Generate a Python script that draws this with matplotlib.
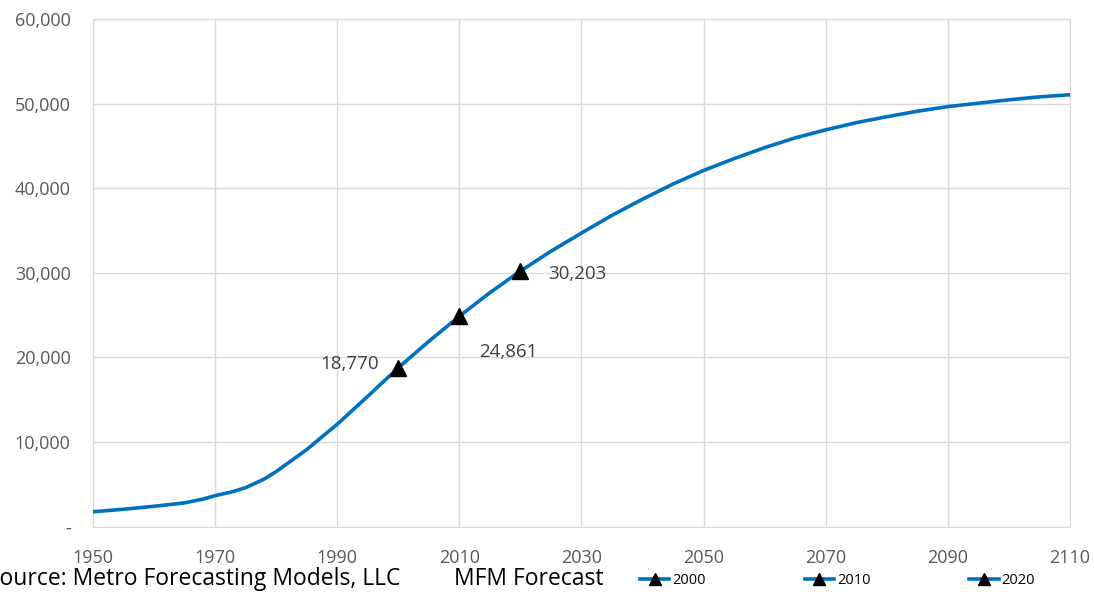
import numpy as np
import matplotlib as mpl; mpl.use('Agg')
import matplotlib.pyplot as plt
from matplotlib.lines import Line2D
from matplotlib.ticker import FuncFormatter

plt.rcParams['font.family'] = ['Open Sans', 'DejaVu Sans']

years = [1950, 1955, 1960, 1965, 1968, 1970, 1973, 1975, 1978, 1980, 1985, 1990, 1995, 2000, 2005,
         2010, 2015, 2020, 2025, 2030, 2035, 2040, 2045, 2050, 2055, 2060, 2065, 2070, 2075, 2080,
         2085, 2090, 2095, 2100, 2105, 2110]
pop = [1750, 2050, 2400, 2800, 3250, 3650, 4150, 4600, 5600, 6500, 9100, 12100, 15400, 18770, 21900,
       24861, 27650, 30203, 32550, 34700, 36800, 38700, 40500, 42100, 43500, 44800, 45950, 46900, 47750,
       48450, 49100, 49650, 50050, 50450, 50800, 51050]
mark_years = [2000, 2010, 2020]
mark_vals = [18770, 24861, 30203]
mark_labels = ['18,770', '24,861', '30,203']

blue = '#0070C0'; grey = '#595959'; grid = '#D9D9D9'

fig = plt.figure(figsize=(10.94, 5.95), dpi=100)
ax = fig.add_axes([0.085, 0.115, 0.893, 0.853])
ax.plot(years, pop, color=blue, lw=2.6, solid_capstyle='round', solid_joinstyle='round', zorder=3)
ax.plot(mark_years, mark_vals, ls='none', marker='^', ms=12, color='black', zorder=4)

offsets = [(-14, 3), (14, -26), (20, -2)]
has = ['right', 'left', 'left']
for x, v, t, (dx, dy), ha in zip(mark_years, mark_vals, mark_labels, offsets, has):
    ax.annotate(t, (x, v), xytext=(dx, dy), textcoords='offset points', ha=ha, va='center',
                fontsize=13.5, color='#404040')

ax.set_xlim(1950, 2110); ax.set_ylim(0, 60000)
ax.set_xticks(range(1950, 2111, 20)); ax.set_yticks(range(0, 60001, 10000))
ax.yaxis.set_major_formatter(FuncFormatter(lambda v, p: '-' if v == 0 else f'{int(v):,}'))
ax.grid(True, color=grid, lw=1)
ax.set_axisbelow(True)
for s in ax.spines.values():
    s.set_color(grid)
ax.tick_params(length=0, labelsize=13, colors=grey)
ax.tick_params(axis='x', pad=16)
ax.tick_params(axis='y', pad=16)

fig.text(-0.012, 0.006, 'Source: Metro Forecasting Models, LLC', fontsize=16.5, color='black', va='bottom')
fig.text(0.415, 0.006, 'MFM Forecast', fontsize=16.5, color='black', va='bottom')

handles = [Line2D([], [], color=blue, lw=2.6, marker='^', ms=8, mfc='black', mec='black') for _ in mark_years]
fig.legend(handles, [str(y) for y in mark_years], loc='lower left', bbox_to_anchor=(0.573, -0.01),
           ncol=3, frameon=False, fontsize=10.5, handlelength=2.0, handletextpad=0.2, columnspacing=6.8)

fig.savefig('out.png', dpi=100)
